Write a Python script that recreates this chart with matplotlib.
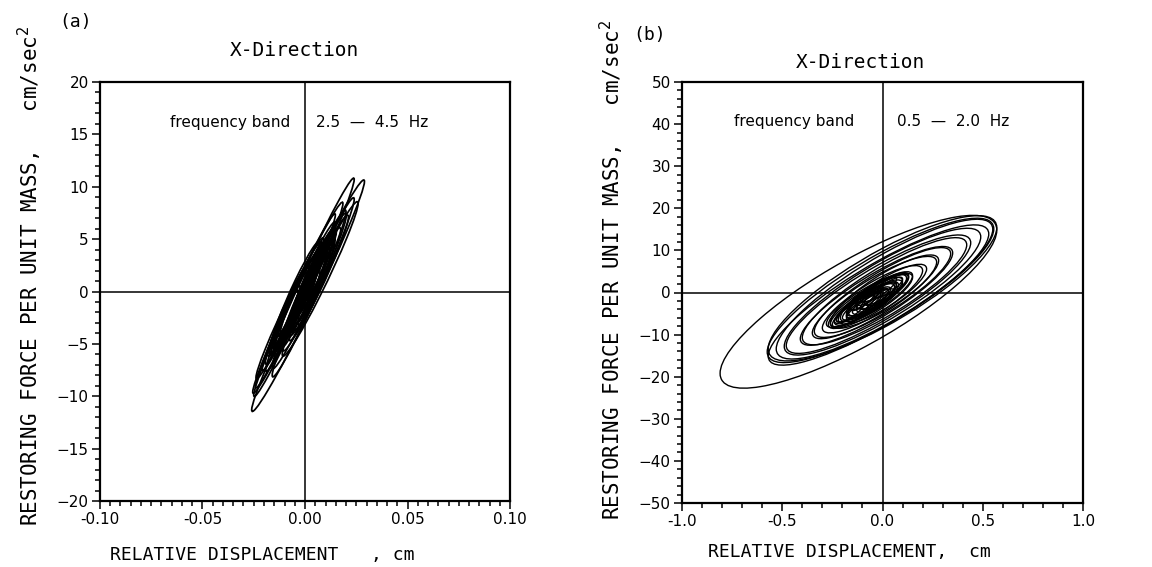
import numpy as np
import matplotlib
matplotlib.use("Agg")
import matplotlib.pyplot as plt
from matplotlib.patches import Circle
from matplotlib.transforms import Affine2D
from matplotlib.ticker import MultipleLocator, FormatStrFormatter

# Each hysteresis loop: centre (cx, cy), peak displacement, force at peak
# displacement (relative to centre) and force half-opening at the centre.

# panel (a): frequency band 2.5 - 4.5 Hz
a_cx = [0.0015, -0.0005, -0.0035, 0.0040, -0.0047, 0.0020, -0.0022, 0.0047,
        -0.0059, 0.0012, -0.0030, 0.0059, -0.0072, 0.0012, -0.0027, 0.0035,
        -0.0052, 0.0000, 0.0010, 0.0013, -0.0079, 0.0069, 0.0002, 0.0010,
        -0.0079, -0.0059, 0.0067, 0.0074, -0.0091, 0.0084, -0.0060, 0.0045,
        -0.0047, 0.0037, -0.0074, 0.0054, -0.0040, 0.0027, -0.0103, 0.0083]
a_cy = [-0.4, 0.4, -0.6, 0.4, -0.9, 0.2, -0.5, 0.9,
        -1.2, 0.3, -0.6, 1.2, -1.5, 0.1, -0.3, 0.6,
        -0.9, 0.0, 0.8, -0.5, -1.8, 1.4, 0.3, -0.2,
        -1.8, -1.4, 1.3, 1.2, -2.5, 2.2, -0.8, 0.2,
        -0.3, 0.5, -2.0, 1.8, -1.0, 0.9, -3.0, 2.8]
a_disp = [0.0275, 0.0245, 0.0220, 0.0200, 0.0195, 0.0180, 0.0170, 0.0155,
          0.0150, 0.0135, 0.0125, 0.0115, 0.0110, 0.0100, 0.0095, 0.0085,
          0.0080, 0.0070, 0.0065, 0.0060, 0.0055, 0.0055, 0.0050, 0.0045,
          0.0160, 0.0135, 0.0145, 0.0185, 0.0060, 0.0060, 0.0080, 0.0080,
          0.0120, 0.0110, 0.0090, 0.0090, 0.0105, 0.0125, 0.0070, 0.0070]
a_force = [10.9, 10.3, 9.0, 8.4, 8.2, 7.4, 7.0, 6.4,
           6.2, 5.6, 5.1, 4.7, 4.5, 4.1, 3.8, 3.4,
           3.2, 2.8, 2.6, 2.4, 2.2, 2.2, 2.0, 1.8,
           6.4, 5.4, 5.8, 7.2, 2.4, 2.4, 3.2, 3.2,
           4.9, 4.5, 3.7, 3.7, 4.3, 5.0, 2.9, 2.9]
a_open = [1.8, 1.6, 1.5, 1.6, 1.4, 1.6, 1.4, 1.5,
          1.3, 1.5, 1.3, 1.4, 1.2, 1.3, 1.2, 1.2,
          1.1, 1.1, 1.0, 1.0, 0.9, 0.9, 0.9, 0.8,
          1.3, 1.2, 1.5, 1.6, 1.0, 1.0, 1.1, 1.1,
          1.4, 1.3, 1.2, 1.2, 1.4, 1.5, 1.0, 1.0]

# panel (b): frequency band 0.5 - 2.0 Hz
b_cx = [-0.12, 0.00, -0.01, 0.01, -0.02, 0.00, -0.02, 0.01, -0.03, 0.00,
        -0.04, 0.01, -0.05, 0.00, -0.06, -0.03, -0.07, -0.02, -0.05, -0.08,
        -0.03, -0.06, -0.01, -0.04, -0.07, -0.02, -0.05, -0.09, 0.02, -0.11,
        -0.10, -0.08, -0.12, -0.04, -0.09, 0.00, -0.06,
        -0.14, -0.02, -0.10, -0.16, 0.03]
b_cy = [-2.2, 1.0, 0.5, 0.8, -0.6, 0.2, -0.4, 0.3, -0.8, 0.0,
        -1.2, 0.2, -1.6, -0.4, -2.0, -1.0, -2.4, -0.6, -1.8, -2.6,
        -1.2, -2.2, -0.2, -1.6, -0.8, -2.4, -0.4, -3.0, 0.6, -3.6,
        -3.0, -2.0, -3.4, -1.0, -1.4, 0.4, -2.8,
        -4.0, 0.8, -2.0, -4.6, 1.2]
b_disp = [0.69, 0.57, 0.565, 0.54, 0.55, 0.49, 0.46, 0.41, 0.38, 0.34,
          0.31, 0.27, 0.25, 0.22, 0.21, 0.18, 0.17, 0.15, 0.13, 0.12,
          0.10, 0.09, 0.08, 0.07, 0.06, 0.06, 0.05, 0.09, 0.11, 0.14,
          0.16, 0.20, 0.11, 0.14, 0.08, 0.13, 0.12,
          0.10, 0.09, 0.06, 0.07, 0.07]
b_force = [17.0, 14.4, 14.6, 14.2, 14.5, 13.0, 12.2, 11.0, 10.2, 9.2,
           8.4, 7.4, 6.8, 6.0, 5.6, 5.0, 4.6, 4.2, 3.6, 3.4,
           2.8, 2.4, 2.2, 2.0, 1.8, 1.6, 1.4, 2.6, 3.0, 4.0,
           4.4, 5.4, 3.0, 3.8, 2.2, 3.6, 3.2,
           2.8, 2.4, 1.8, 2.0, 2.0]
b_open = [11.5, 9.5, 9.0, 8.6, 8.2, 7.6, 7.0, 6.4, 5.8, 5.4,
          5.0, 4.6, 4.2, 3.8, 3.4, 3.2, 2.8, 2.6, 2.4, 2.0,
          2.0, 1.8, 1.6, 1.4, 1.4, 1.2, 1.2, 1.6, 2.2, 2.4,
          2.6, 3.2, 2.0, 2.6, 1.6, 2.4, 1.8,
          1.8, 1.8, 1.4, 1.4, 1.4]

W, H = 1152, 567
mono = 'DejaVu Sans Mono'
plt.rcParams['font.family'] = 'DejaVu Sans'

fig = plt.figure(figsize=(W / 100, H / 100), dpi=100)


def draw_loops(ax, cx, cy, disp, force, opening, lw):
    for x0, y0, d, f, o in zip(cx, cy, disp, force, opening):
        m = Affine2D(np.array([[d, 0, x0], [f, o, y0], [0, 0, 1]]))
        ax.add_patch(Circle((0, 0), 1, transform=m + ax.transData,
                            fill=False, ec='black', lw=lw))


def style_axes(ax, xlim, ylim, xmaj, xmin, ymaj, ymin, xfmt):
    ax.set_xlim(*xlim)
    ax.set_ylim(*ylim)
    ax.axhline(0, color='black', lw=1.1)
    ax.axvline(0, color='black', lw=1.1)
    ax.xaxis.set_major_locator(MultipleLocator(xmaj))
    ax.xaxis.set_minor_locator(MultipleLocator(xmin))
    ax.yaxis.set_major_locator(MultipleLocator(ymaj))
    ax.yaxis.set_minor_locator(MultipleLocator(ymin))
    ax.xaxis.set_major_formatter(FormatStrFormatter(xfmt))
    ax.tick_params(which='both', direction='out', width=1.1, labelsize=11, pad=2)
    ax.tick_params(which='major', length=6)
    ax.tick_params(which='minor', length=3.5)
    for s in ax.spines.values():
        s.set_linewidth(1.6)


def px(x, y):
    return x / W, 1 - y / H


ylab = 'RESTORING FORCE PER UNIT MASS,   cm/sec$^2$'

# ---- panel (a)
ax1 = fig.add_axes([100 / W, 1 - 501 / H, 410 / W, 419 / H])
draw_loops(ax1, a_cx, a_cy, a_disp, a_force, a_open, 1.25)
style_axes(ax1, (-0.10, 0.10), (-20, 20), 0.05, 0.005, 5, 1, '%.2f')
ax1.text(-0.0073, 16.1, 'frequency band', ha='right', va='center', fontsize=11)
ax1.text(0.0055, 16.1, '2.5  \u2014  4.5  Hz', ha='left', va='center', fontsize=11)

fig.text(*px(76, 22), '(a)', family=mono, fontsize=13, ha='center', va='center')
fig.text(*px(294, 50), 'X-Direction', family=mono, fontsize=14, ha='center', va='center')
fig.text(*px(30, 276), ylab, family=mono, fontsize=15, rotation=90,
         ha='center', va='center')
fig.text(*px(262, 555), 'RELATIVE DISPLACEMENT   , cm', family=mono, fontsize=13,
         ha='center', va='center')

# ---- panel (b)
ax2 = fig.add_axes([682 / W, 1 - 503 / H, 401 / W, 421 / H])
draw_loops(ax2, b_cx, b_cy, b_disp, b_force, b_open, 1.0)
style_axes(ax2, (-1.0, 1.0), (-50, 50), 0.5, 0.1, 10, 2, '%.1f')
ax2.text(-0.14, 40.5, 'frequency band', ha='right', va='center', fontsize=11)
ax2.text(0.07, 40.5, '0.5  \u2014  2.0  Hz', ha='left', va='center', fontsize=11)

fig.text(*px(650, 35), '(b)', family=mono, fontsize=13, ha='center', va='center')
fig.text(*px(860, 62), 'X-Direction', family=mono, fontsize=14, ha='center', va='center')
fig.text(*px(612, 270), ylab, family=mono, fontsize=15, rotation=90,
         ha='center', va='center')
fig.text(*px(849, 552), 'RELATIVE DISPLACEMENT,  cm', family=mono, fontsize=13,
         ha='center', va='center')

fig.savefig('out.png', dpi=100)
